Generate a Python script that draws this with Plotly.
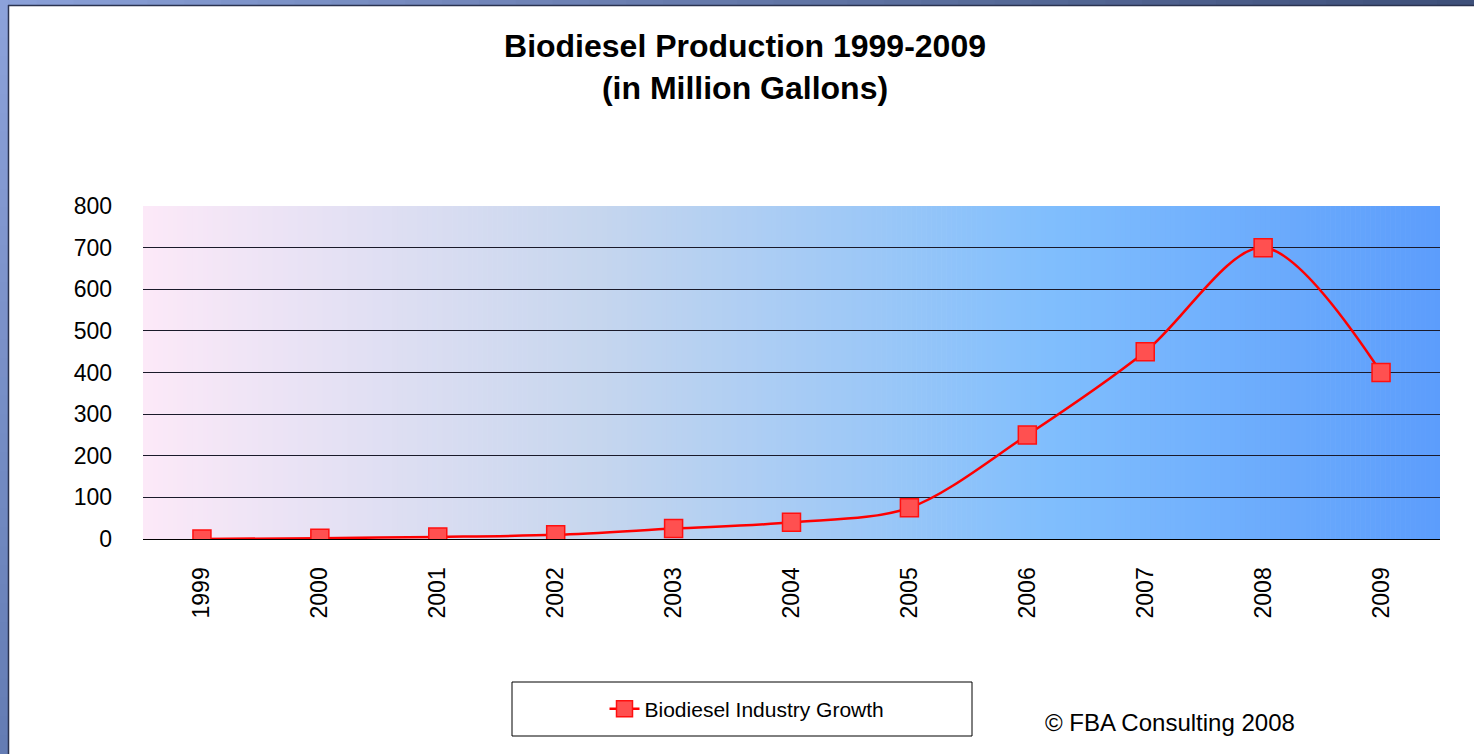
import plotly.graph_objects as go

years = ["1999", "2000", "2001", "2002", "2003", "2004", "2005", "2006", "2007", "2008", "2009"]
production = [0, 2, 5, 10, 25, 40, 75, 250, 450, 700, 400]
series_name = "Biodiesel Industry Growth"
y_ticks = [0, 100, 200, 300, 400, 500, 600, 700, 800]

W, H = 1474, 754
L, R, T, B = 143, 34, 206, 215
pw, ph = W - L - R, H - T - B

def px_x(p):
    return (p - L) / pw

def px_y(p):
    return (H - B - p) / ph

# gradient stops for the plot background (horizontal)
stops = [(0.0, (252, 233, 248)), (0.35, (198, 214, 238)), (0.7, (128, 190, 253)), (1.0, (92, 157, 252))]

def interp(t):
    for (t0, c0), (t1, c1) in zip(stops[:-1], stops[1:]):
        if t <= t1:
            f = (t - t0) / (t1 - t0) if t1 > t0 else 0
            return "rgb(%d,%d,%d)" % tuple(round(a + (b - a) * f) for a, b in zip(c0, c1))
    return "rgb(%d,%d,%d)" % stops[-1][1]

shapes = []
N = 260
for i in range(N):
    x0 = i / N
    x1 = (i + 1) / N + 0.0005
    shapes.append(dict(type="rect", xref="paper", yref="paper", x0=x0, x1=min(x1, 1), y0=0, y1=1,
                       fillcolor=interp((i + 0.5) / N), line=dict(width=0), layer="below"))

# slide frame: top strip and left strip
def mix(c0, c1, f):
    return "rgb(%d,%d,%d)" % tuple(round(a + (b - a) * f) for a, b in zip(c0, c1))

M = 40
for i in range(M):
    f = i / (M - 1)
    shapes.append(dict(type="rect", xref="paper", yref="paper",
                       x0=px_x(i * W / M), x1=px_x((i + 1) * W / M + 1), y0=px_y(0), y1=px_y(5),
                       fillcolor=mix((138, 160, 216), (62, 80, 122), f), line=dict(width=0), layer="above"))
    shapes.append(dict(type="rect", xref="paper", yref="paper",
                       x0=px_x(0), x1=px_x(8), y0=px_y(i * H / M), y1=px_y((i + 1) * H / M + 1),
                       fillcolor=mix((140, 162, 218), (100, 124, 180), f), line=dict(width=0), layer="above"))
shapes.append(dict(type="line", xref="paper", yref="paper", x0=px_x(8), x1=px_x(W), y0=px_y(5.5), y1=px_y(5.5),
                   line=dict(color="#2a3350", width=1.5), layer="above"))
shapes.append(dict(type="line", xref="paper", yref="paper", x0=px_x(8.5), x1=px_x(8.5), y0=px_y(5), y1=px_y(H),
                   line=dict(color="#2a3350", width=1.5), layer="above"))
# legend box
shapes.append(dict(type="rect", xref="paper", yref="paper", x0=px_x(512), x1=px_x(972), y0=px_y(682), y1=px_y(736),
                   line=dict(color="black", width=1), fillcolor="white", layer="above"))

fig = go.Figure()
fig.add_trace(go.Scatter(
    x=years, y=production, name=series_name, mode="lines+markers",
    line=dict(color="#ff0000", width=2.5, shape="spline", smoothing=0.9),
    marker=dict(symbol="square", size=18, color="#ff5050", line=dict(color="#ff1010", width=1.5)),
))

fig.update_layout(
    width=W, height=H,
    margin=dict(l=L, r=R, t=T, b=B),
    paper_bgcolor="white", plot_bgcolor="white",
    font=dict(family="Arial, Liberation Sans, sans-serif", color="black"),
    title=dict(text="<b>Biodiesel Production 1999-2009<br>(in Million Gallons)</b>",
               x=745 / W, xanchor="center", y=1 - 57 / H, yanchor="middle", yref="container",
               font=dict(size=32, color="black")),
    shapes=shapes,
    showlegend=True,
    legend=dict(x=px_x(747), xanchor="center", y=px_y(709), yanchor="middle",
                bgcolor="rgba(0,0,0,0)", borderwidth=0, font=dict(size=21)),
    annotations=[dict(text="© FBA Consulting 2008", xref="paper", yref="paper",
                      x=px_x(1043), xanchor="left", y=px_y(722), yanchor="middle",
                      showarrow=False, font=dict(size=24, color="black"))],
)
fig.update_xaxes(type="category", range=[-0.5, 10.5], showgrid=False, showline=True,
                 linecolor="black", linewidth=1.2, ticks="", tickangle=-90,
                 tickfont=dict(size=23), ticklabelstandoff=18, zeroline=False)
fig.update_yaxes(range=[0, 800], tickvals=y_ticks, showgrid=True, gridcolor="#1a1a2a", gridwidth=1,
                 showline=False, zeroline=False, ticks="", tickfont=dict(size=23), ticklabelstandoff=30)

fig.write_html("out.html", config={"displayModeBar": False},
               post_script="document.body.style.margin='0';")
